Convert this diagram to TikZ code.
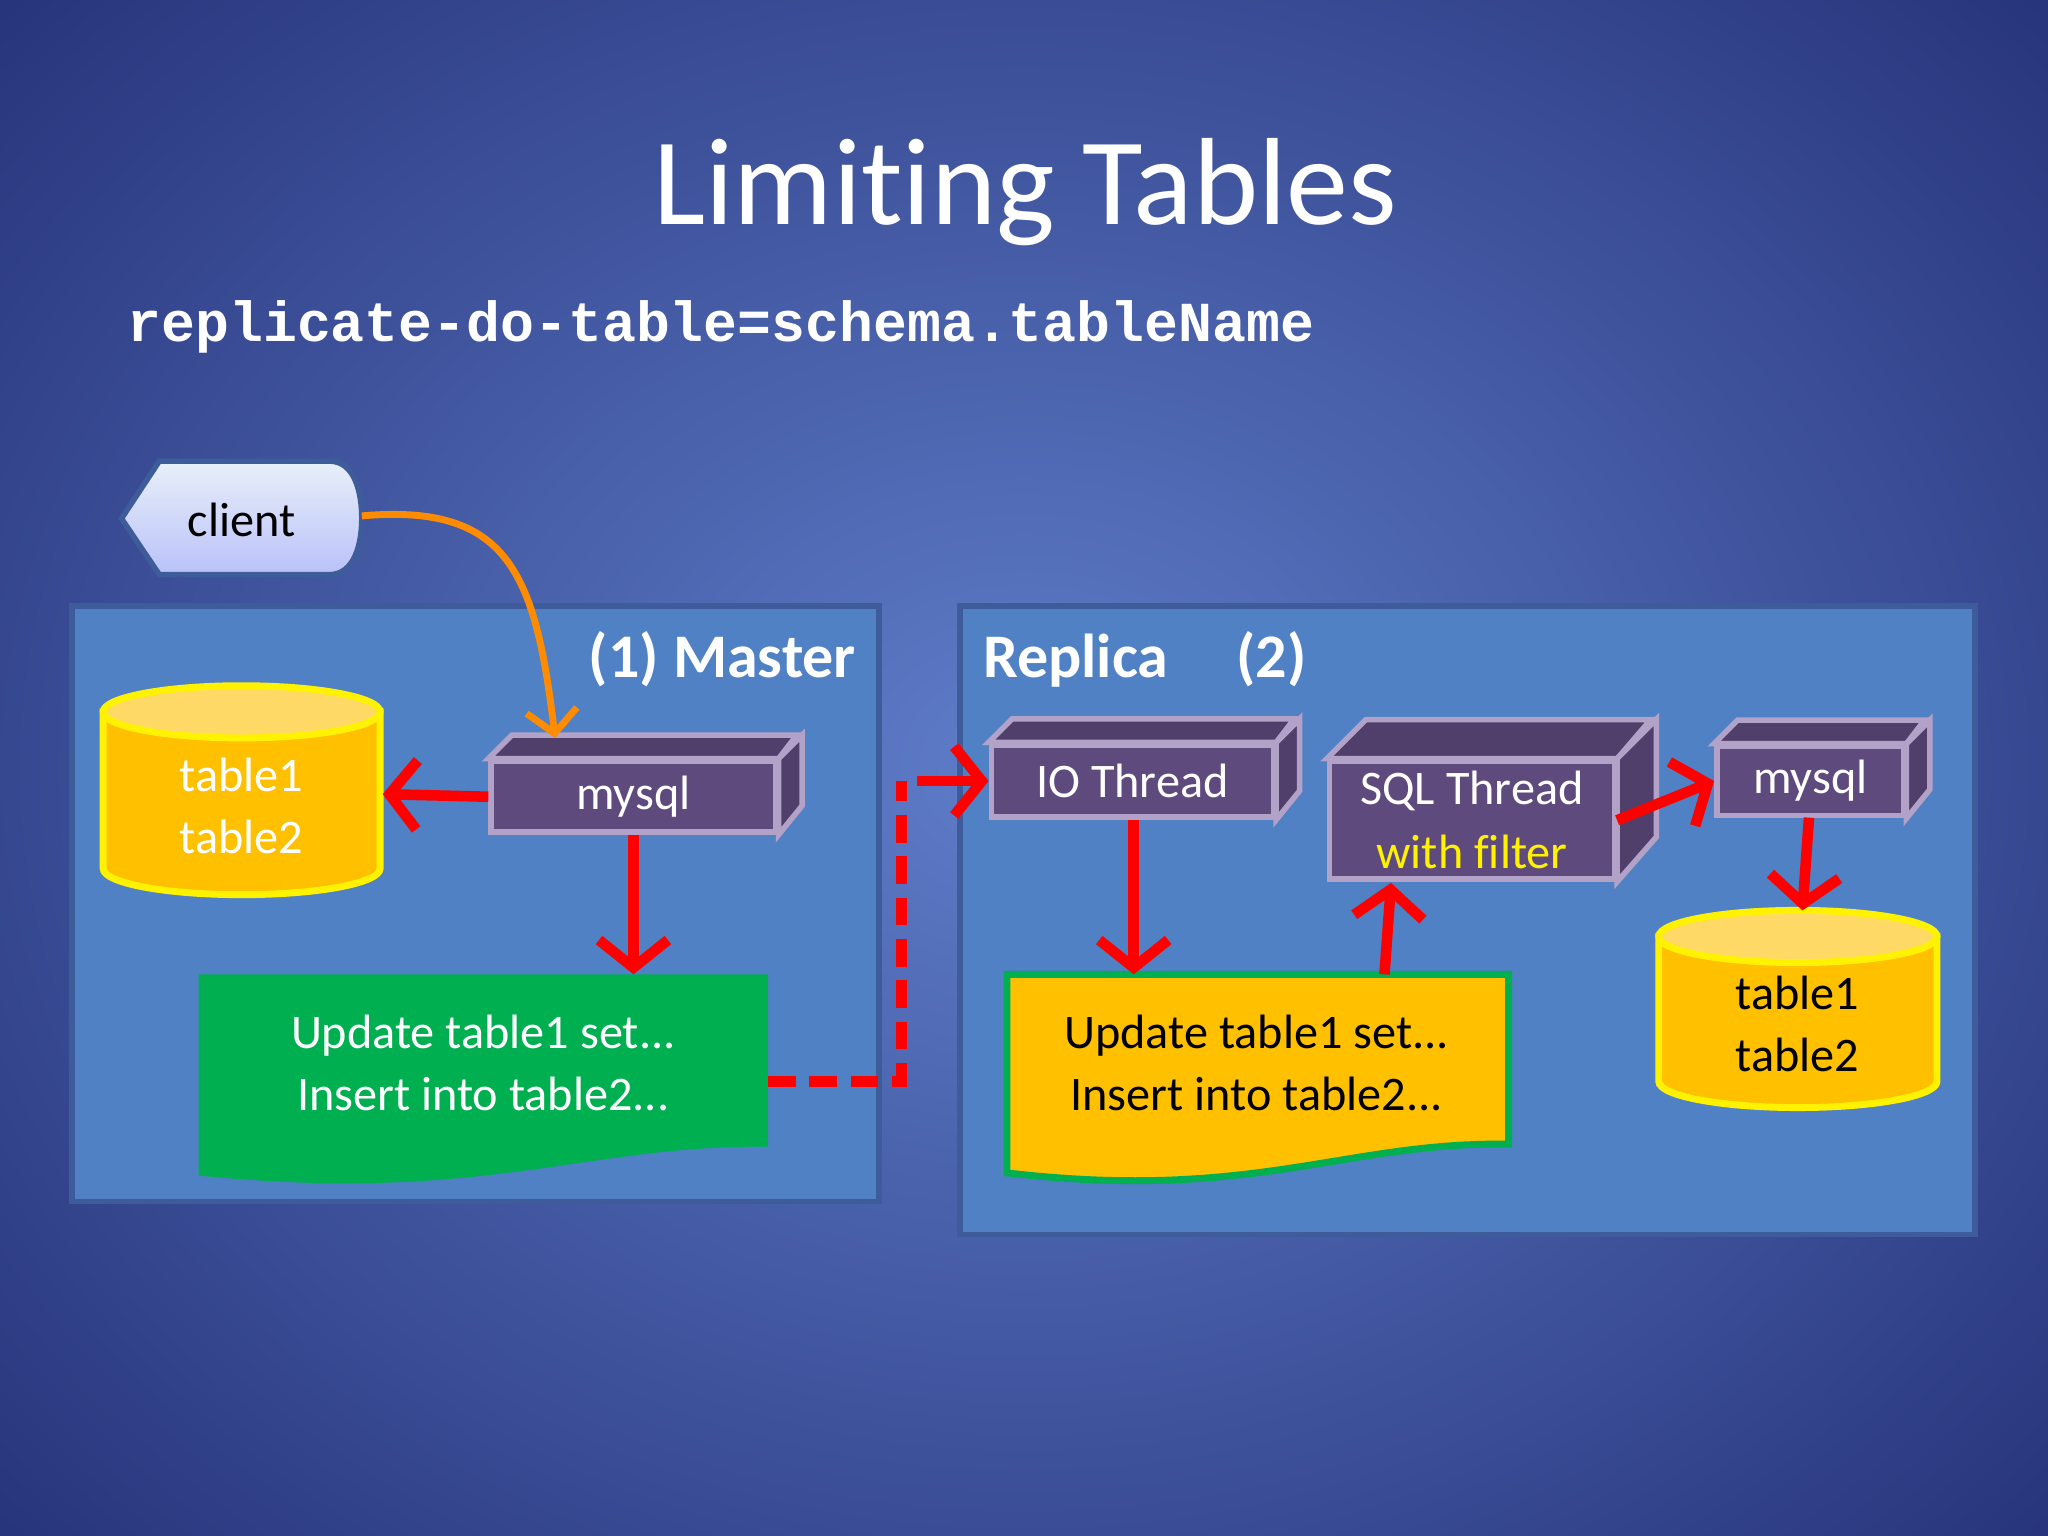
\documentclass[tikz,border=0pt]{standalone}
\usepackage{fontspec}
\setmainfont{Carlito}[Ligatures={NoCommon,NoRequired,NoContextual}]
\newfontfamily\monof{Liberation Mono}
\usetikzlibrary{arrows.meta,calc}
\definecolor{bgin}{HTML}{5F7DC9}
\definecolor{bgout}{HTML}{26337A}
\definecolor{panel}{HTML}{4F81C4}
\definecolor{panelb}{HTML}{3D5C99}
\definecolor{boxf}{HTML}{5F4A7E}
\definecolor{boxb}{HTML}{B3A2C7}
\definecolor{cyl}{HTML}{FFC000}
\definecolor{cyltop}{HTML}{FFD966}
\definecolor{docg}{HTML}{00B050}
\definecolor{cli}{HTML}{C6D9F1}
\tikzset{
 panel/.style={fill=panel,draw=panelb,line width=1.2pt},
 box/.style={fill=boxf,draw=boxb,line width=1.2pt,text=white,font=\fontsize{10.5}{12}\selectfont,inner sep=0pt},
 side/.style={fill=boxf!85!black,draw=boxb,line width=1.2pt},
 red arrow/.style={draw=red,line width=2.3pt,-{Straight Barb[length=6pt,width=15pt,line width=2.3pt]}},
 lbl/.style={font=\fontsize{10.5}{12.5}\selectfont,align=center,inner sep=0pt},
 head/.style={text=white,font=\bfseries\fontsize{13.5}{16}\selectfont,inner sep=0pt},
}
\newcommand\mybox[7]{% name, cx, cy, w, h, depth, text
 \node[box,minimum width=#4*0.01cm,minimum height=#5*0.01cm] (#1) at (#2,#3) {#7};
 \draw[side] (#1.north west) -- ++(#6,-#6) -- ++(#4,0) -- ($(#1.north east)$) -- cycle;
 \draw[side] (#1.north east) -- ++(#6,-#6) -- ++(0,#5) -- (#1.south east) -- cycle;
}
\newcommand\mycyl[5]{% name, x1, x2, ytop, ybot
 \pgfmathsetmacro\cx{(#2+#3)/2}\pgfmathsetmacro\rx{(#3-#2)/2}
 \fill[cyl,draw=yellow,line width=1.5pt] (#2,#4) -- (#2,#5) arc[start angle=180,end angle=360,x radius=\rx,y radius=-20] -- (#3,#4) -- cycle;
 \draw[fill=cyltop,draw=yellow,line width=1.5pt] (\cx,#4) ellipse[x radius=\rx,y radius=20];
 \coordinate (#1) at (\cx,#4);
}
\begin{document}
\begin{tikzpicture}[x=0.01cm,y=-0.01cm]
\useasboundingbox (0,0) rectangle (1568,1176);
\shade[inner color=bgin,outer color=bgout] (-300,-300) rectangle (1868,1476);
\node[text=white,font=\fontsize{27}{32}\selectfont,inner sep=0pt] (title) at (785,147) {Limiting Tables};
\node[text=white,font=\monof\bfseries\fontsize{12.3}{14}\selectfont,anchor=west,inner sep=0pt] (cmd) at (97,250) {replicate-do-table=schema.tableName};
% panels
\draw[panel] (55,464) rectangle (673,920);
\node[head,anchor=east] (mlab) at (656,505) {(1) Master};
\draw[panel] (735,464) rectangle (1512,945);
\node[head,anchor=west] (rlab) at (752,505) {Replica\hspace{1.1em}(2)};
% client
\draw[top color=cli!40,bottom color=cli!70!blue!60,draw=panelb,line width=1.2pt] (93,397) -- (122,353) -- (252,353) to[out=0,in=90] (277,397) to[out=-90,in=0] (252,440) -- (122,440) -- cycle;
\node[lbl,font=\fontsize{10.5}{12}\selectfont] (client) at (185,398) {client};
\coordinate (clientE) at (277,395);
% master
\mycyl{mcyl}{79}{291}{545}{665}
\node[lbl,text=white] (mcyltxt) at (185,617) {table1\\[1pt]table2};
\coordinate (mcylE) at (293,608);
\mybox{mmysql}{485}{610}{218}{54}{18}{mysql}
\coordinate (mtop) at (425,565);
\draw[orange!90!yellow,line width=1.5pt,-{Straight Barb[length=5pt,width=11pt,line width=1.5pt]}] (clientE) .. controls (390,385) and (410,440) .. (mtop);
\draw[red arrow] (mmysql.west) -- (mcylE);
\draw[fill=docg,draw=none] (152,746) -- (588,746) -- (588,878) .. controls (450,876) and (370,922) .. (152,900) -- cycle;
\node[lbl,text=white] (mdoc) at (370,814) {Update table1 set...\\[1pt]Insert into table2...};
\coordinate (mdocT) at (485,746);
\draw[red arrow] (mmysql.south -| mdocT) -- (mdocT);
% replica
\mybox{io}{867}{598}{216}{55}{18}{IO Thread}
\node[box,minimum width=218*0.01cm,minimum height=90*0.01cm,align=center] (sql) at (1127,628) {SQL Thread\\[2pt]\textcolor{yellow}{with filter}};
\draw[side] (sql.north west) -- ++(30,-30) -- ++(218,0) -- (sql.north east) -- cycle;
\draw[side] (sql.north east) -- ++(30,-30) -- ++(0,90) -- (sql.south east) -- cycle;
\mybox{rmysql}{1386}{598}{143}{53}{18}{mysql}
\draw[fill=cyl,draw=docg,line width=1.5pt] (771,746) -- (1155,746) -- (1155,876) .. controls (1030,874) and (960,920) .. (771,898) -- cycle;
\node[lbl,text=black] (rdoc) at (962,814) {Update table1 set...\\[1pt]Insert into table2...};
\mycyl{rcyl}{1270}{1483}{717}{828}
\node[lbl,text=black] (rcyltxt) at (1376,784) {table1\\[1pt]table2};
\coordinate (ioB) at (868,746);
\draw[red arrow] (io.south -| ioB) -- (ioB);
\coordinate (sqlB) at (1065,676);
\draw[red arrow] (1060,746) -- (sqlB);
\draw[red arrow] (sql.east) -- (rmysql.west);
\coordinate (rcylT) at (1380,697);
\draw[red arrow] (1385,626) -- (rcylT);
\coordinate (d1) at (690,828);
\draw[red,line width=2.3pt,dash pattern=on 6pt off 3pt] (588,828) -- (d1) -- (690,598);
\draw[red arrow] (702,598) -- (io.west);
\end{tikzpicture}
\end{document}
